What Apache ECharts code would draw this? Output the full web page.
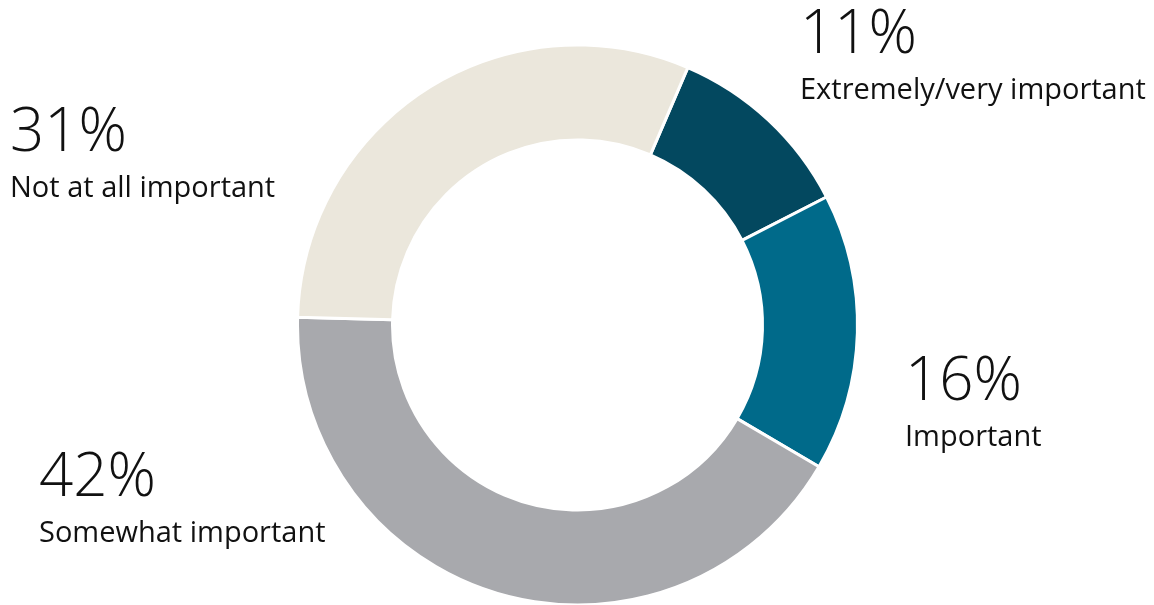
<!DOCTYPE html>
<html>
<head>
<meta charset="utf-8">
<style>
  html, body { margin: 0; padding: 0; background: #ffffff; }
  #chart { width: 1154px; height: 605px; }
</style>
<script src="https://cdn.jsdelivr.net/npm/echarts@6/dist/echarts.min.js"></script>
</head>
<body>
<div id="chart"></div>
<script>
// Share of respondents by importance rating, drawn clockwise
const categories = ['Extremely/very important', 'Important', 'Somewhat important', 'Not at all important'];
const shares = [11, 16, 42, 31];
const sliceColors = ['#03485f', '#006a8a', '#a8a9ad', '#ebe7dc'];

// Where each label block sits (top-left corner, px)
const labelSpots = [
  { x: 800, y: 1 },
  { x: 905, y: 348 },
  { x: 39, y: 444 },
  { x: 10, y: 99 }
];

const chart = echarts.init(document.getElementById('chart'), null, { renderer: 'canvas' });

chart.setOption({
  animation: false,
  backgroundColor: '#ffffff',
  series: [{
    type: 'pie',
    center: [577.5, 325],
    radius: [185, 280],
    startAngle: 66.8,
    clockwise: true,
    avoidLabelOverlap: false,
    silent: true,
    itemStyle: { borderColor: '#ffffff', borderWidth: 3 },
    label: {
      show: true,
      position: 'outside',
      color: '#111111',
      fontFamily: '"Open Sans", "Noto Sans", sans-serif',
      formatter: p => '{v|' + p.value + '%}\n{n|' + p.name + '}',
      rich: {
        v: { fontSize: 60, fontWeight: 300, lineHeight: 70, color: '#111111',
             fontFamily: '"Open Sans", "Noto Sans", sans-serif' },
        n: { fontSize: 29, fontWeight: 400, lineHeight: 40, color: '#111111',
             fontFamily: '"Open Sans", "Noto Sans", sans-serif' }
      }
    },
    labelLine: { show: false },
    labelLayout: params => {
      const s = labelSpots[params.dataIndex];
      return { x: s.x, y: s.y, align: 'left', verticalAlign: 'top', hideOverlap: false };
    },
    data: categories.map((name, i) => ({
      name: name,
      value: shares[i],
      itemStyle: { color: sliceColors[i] }
    }))
  }]
});
</script>
</body>
</html>
